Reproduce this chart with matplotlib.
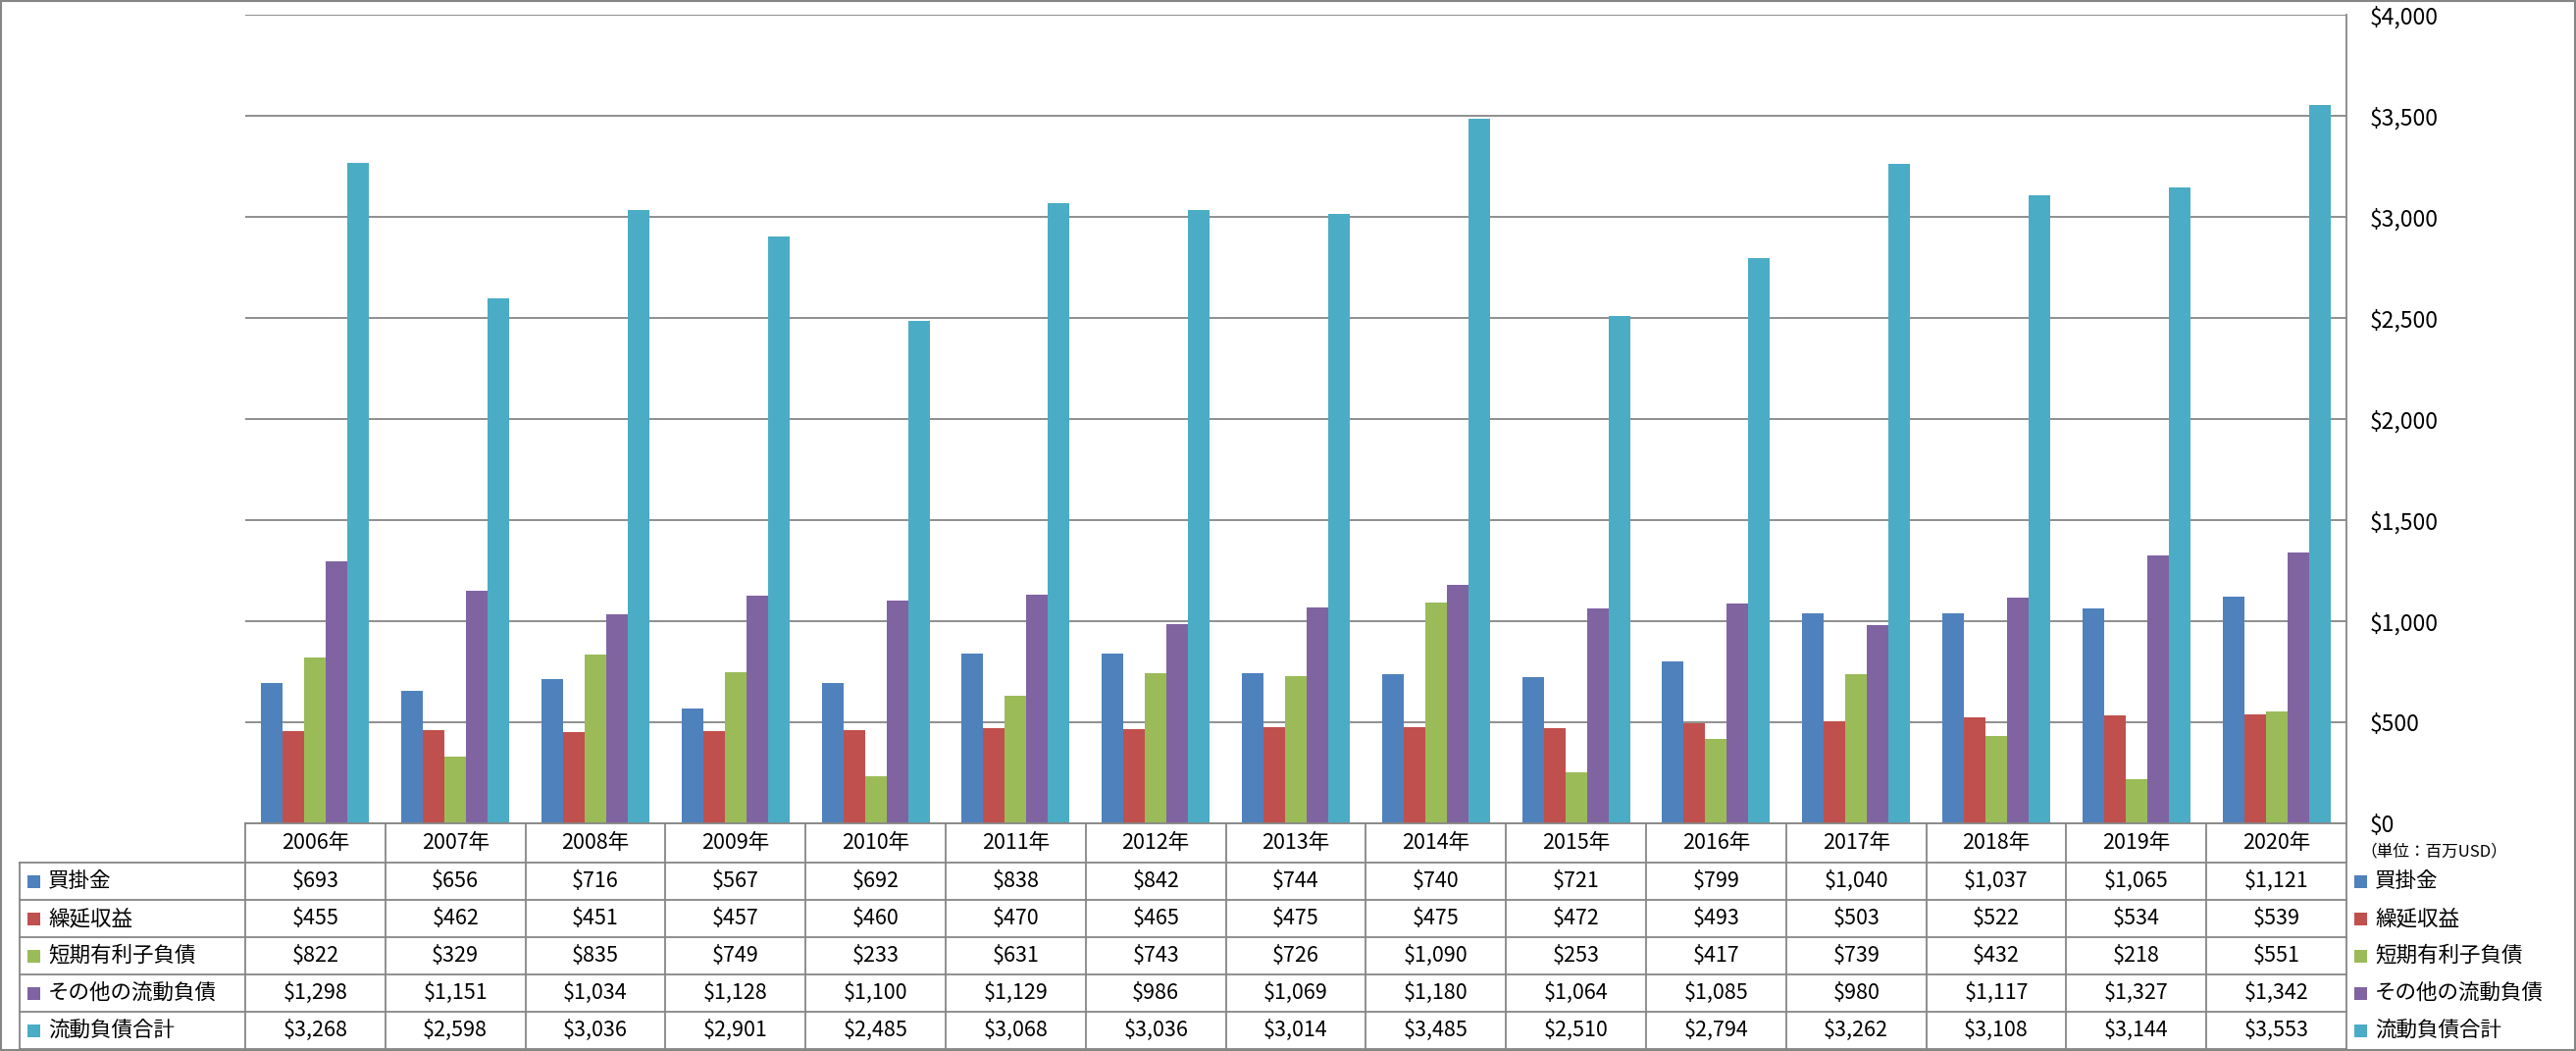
import matplotlib
matplotlib.use("Agg")
import matplotlib.pyplot as plt
from matplotlib.lines import Line2D
from matplotlib.patches import Rectangle
from matplotlib.transforms import blended_transform_factory
import numpy as np

plt.rcParams['font.family'] = ['Noto Sans CJK JP', 'DejaVu Sans']

years = ["2006年", "2007年", "2008年", "2009年", "2010年", "2011年", "2012年", "2013年",
         "2014年", "2015年", "2016年", "2017年", "2018年", "2019年", "2020年"]
series_names = ["買掛金", "繰延収益", "短期有利子負債", "その他の流動負債", "流動負債合計"]
accounts_payable = [693, 656, 716, 567, 692, 838, 842, 744, 740, 721, 799, 1040, 1037, 1065, 1121]
deferred_revenue = [455, 462, 451, 457, 460, 470, 465, 475, 475, 472, 493, 503, 522, 534, 539]
short_term_debt = [822, 329, 835, 749, 233, 631, 743, 726, 1090, 253, 417, 739, 432, 218, 551]
other_current = [1298, 1151, 1034, 1128, 1100, 1129, 986, 1069, 1180, 1064, 1085, 980, 1117, 1327, 1342]
total_current = [3268, 2598, 3036, 2901, 2485, 3068, 3036, 3014, 3485, 2510, 2794, 3262, 3108, 3144, 3553]
yticks = [0, 500, 1000, 1500, 2000, 2500, 3000, 3500, 4000]
unit_label = "（単位：百万USD）"

colors = ["#4F81BD", "#C0504D", "#9BBB59", "#8064A2", "#4BACC6"]
grid_c = "#868686"
series = [accounts_payable, deferred_revenue, short_term_debt, other_current, total_current]

W, H = 2626, 1071
fig = plt.figure(figsize=(W / 100, H / 100), dpi=100)

def fx(px):
    return px / W

def fy(py):
    return 1 - py / H

ax_l, ax_r, ax_t, ax_b = 250, 2392, 15, 839
ax = fig.add_axes([fx(ax_l), fy(ax_b), fx(ax_r - ax_l), (ax_b - ax_t) / H])

n = len(years)
x = np.arange(n)
bw = 0.154
for k, (vals, c) in enumerate(zip(series, colors)):
    ax.bar(x + (k - 2) * bw, vals, width=bw, color=c, zorder=3, linewidth=0)

ax.set_xlim(-0.5, n - 0.5)
ax.set_ylim(0, 4000)
ax.set_yticks(yticks)
ax.set_yticklabels([f"${v:,}" for v in yticks])
ax.yaxis.tick_right()
ax.tick_params(axis='y', length=0, pad=17, labelsize=16.5)
ax.tick_params(axis='x', length=0, labelbottom=False)
ax.grid(axis='y', color=grid_c, linewidth=1.3, zorder=0)
for s in ['left', 'top', 'bottom']:
    ax.spines[s].set_visible(False)
ax.spines['right'].set_color(grid_c)
ax.spines['right'].set_linewidth(1.3)

# Table
bt = blended_transform_factory(ax.transData, fig.transFigure)
row_tops = [839, 879, 917, 955, 993, 1031, 1069]
lw = 1.3
fig.add_artist(Line2D([fx(ax_l), fx(ax_r)], [fy(839), fy(839)], color=grid_c, lw=lw))
for yy in row_tops[1:]:
    fig.add_artist(Line2D([fx(20), fx(ax_r)], [fy(yy), fy(yy)], color=grid_c, lw=lw))
for b in np.arange(n + 1) - 0.5:
    fig.add_artist(Line2D([b, b], [fy(839), fy(1069)], color=grid_c, lw=lw, transform=bt))
fig.add_artist(Line2D([fx(20), fx(20)], [fy(879), fy(1069)], color=grid_c, lw=lw))

fs = 15.5
for i, yr in enumerate(years):
    fig.text(i, fy(859), yr, transform=bt, ha='center', va='center', fontsize=fs)
for r, (name, vals, c) in enumerate(zip(series_names, series, colors)):
    yc = (row_tops[r + 1] + row_tops[r + 2]) / 2
    for i, v in enumerate(vals):
        fig.text(i, fy(yc), f"${v:,}", transform=bt, ha='center', va='center', fontsize=fs)
    fig.add_artist(Rectangle((fx(28), fy(yc + 6.5)), fx(13), 13 / H, color=c, lw=0))
    fig.text(fx(49), fy(yc), name, ha='left', va='center', fontsize=fs)
    fig.add_artist(Rectangle((fx(2400), fy(yc + 6.5)), fx(13), 13 / H, color=c, lw=0))
    fig.text(fx(2421), fy(yc), name, ha='left', va='center', fontsize=fs)

fig.text(fx(2406), fy(868), unit_label, ha='left', va='center', fontsize=12)

fig.add_artist(Rectangle((0.0005, 0.0005), 0.999, 0.999, fill=False, edgecolor=grid_c, lw=1.5,
                         transform=fig.transFigure))

fig.savefig("out.png", dpi=100, facecolor="white")
